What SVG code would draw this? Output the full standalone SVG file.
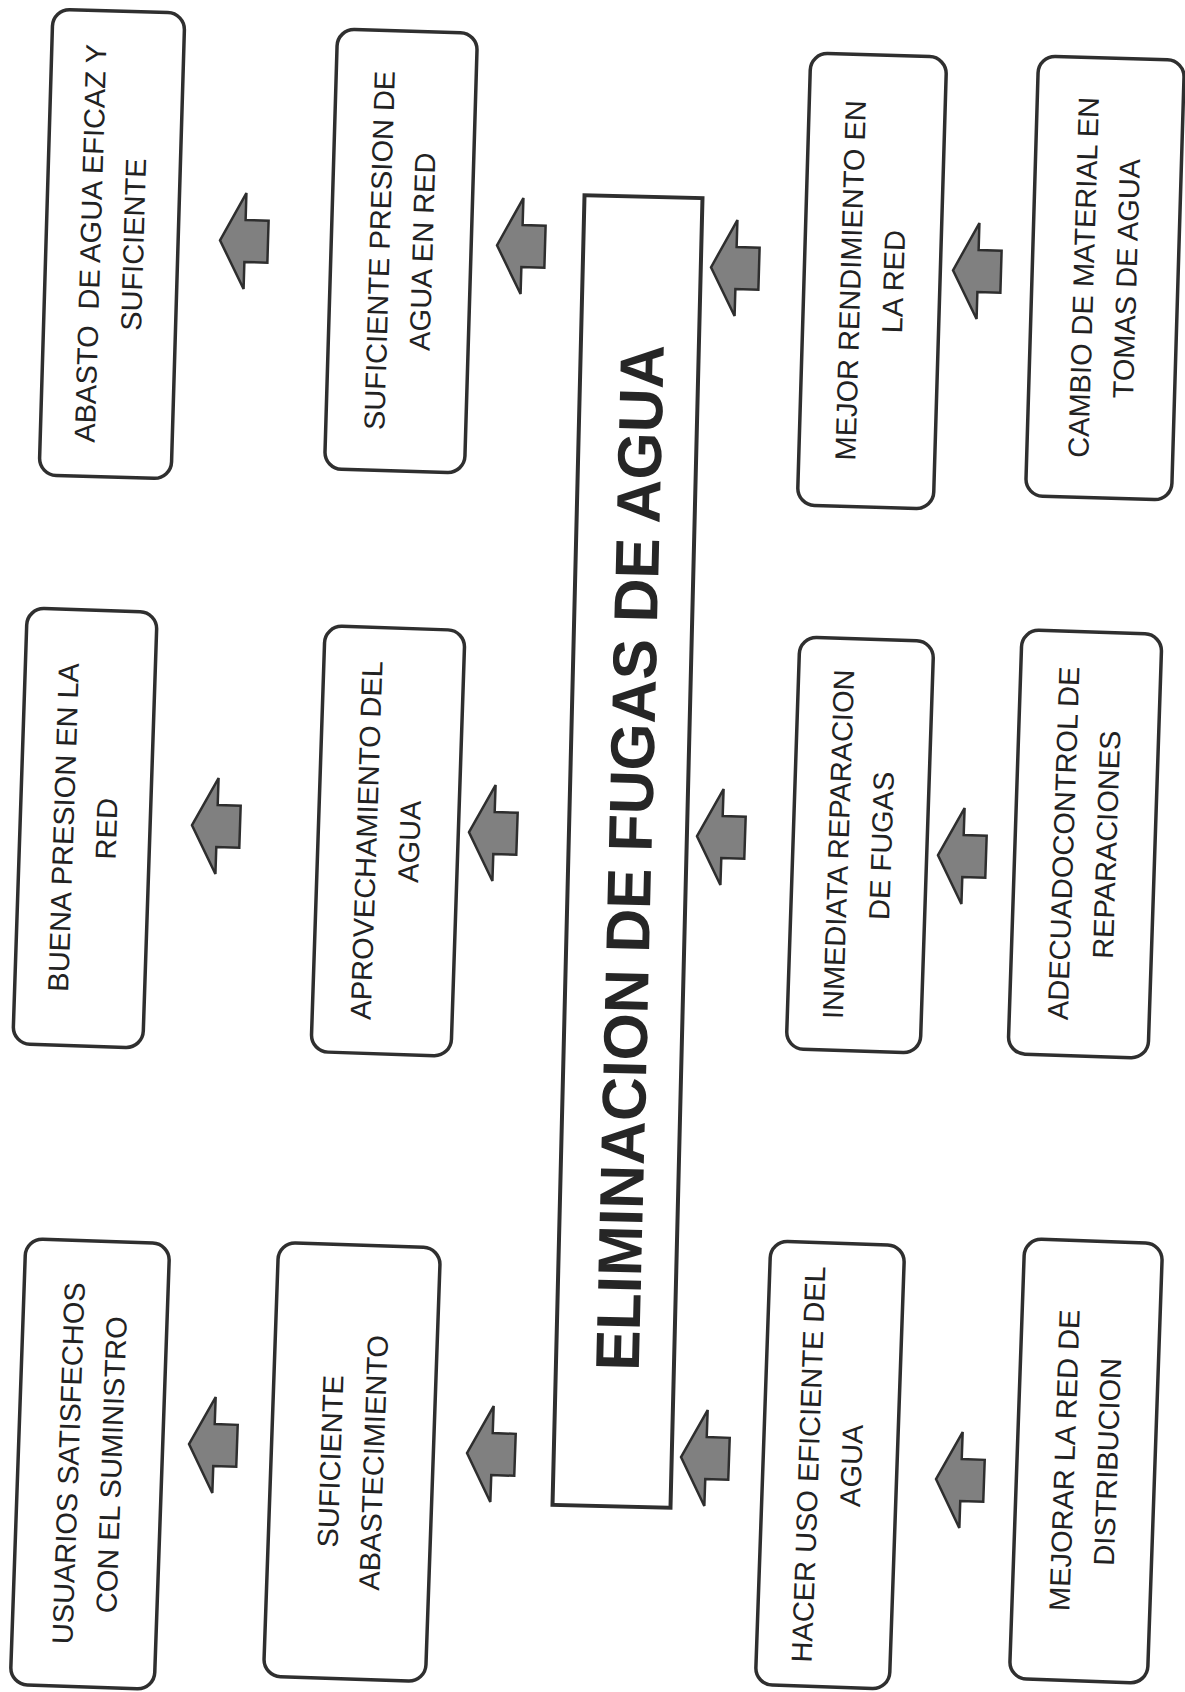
<svg xmlns="http://www.w3.org/2000/svg" xmlns:xlink="http://www.w3.org/1999/xlink" width="1185" height="1692" viewBox="0 0 1185 1692">
<style>
.box{fill:#fff;stroke:#2f2f2f;stroke-width:3.5}
.main{fill:#fff;stroke:#2f2f2f;stroke-width:4}
.lbl{font-family:"Liberation Sans",Arial,sans-serif;font-size:29px;fill:#222;text-anchor:middle}
.title{font-family:"Liberation Sans",Arial,sans-serif;font-size:62px;font-weight:bold;fill:#262626;text-anchor:middle}
.arrow{fill:#808080;stroke:#2e2e2e;stroke-width:2.5;stroke-linejoin:miter}
</style>
<defs>
<path id="arr" d="M-24 0 L1 -48 L1 -21 L24 -21 L24 21 L1 21 L1 48 Z"/>
</defs>
<rect x="0" y="0" width="1185" height="1692" fill="#fff"/>

<g id="center">
<g transform="translate(627.5 851.5) rotate(1.4)">
<rect class="main" x="-59" y="-655" width="118" height="1310"/>
<text class="title" transform="rotate(-90)" x="-6" y="24" textLength="1026" lengthAdjust="spacingAndGlyphs">ELIMINACION DE FUGAS DE AGUA</text>
</g>
</g>

<g id="n-abasto" transform="translate(112 244) rotate(1.7)">
<rect class="box" x="-66" y="-233" width="132" height="466" rx="17"/>
<text class="lbl" transform="rotate(-90)" xml:space="preserve"><tspan x="0" y="-11.5">ABASTO  DE AGUA EFICAZ Y</tspan><tspan x="0" y="31.5">SUFICIENTE</tspan></text>
</g>
<g id="n-presion-red" transform="translate(401 251) rotate(1.7)">
<rect class="box" x="-70" y="-220" width="140" height="440" rx="17"/>
<text class="lbl" transform="rotate(-90)"><tspan x="0" y="-11.5">SUFICIENTE PRESION DE</tspan><tspan x="0" y="31.5">AGUA EN RED</tspan></text>
</g>
<g id="n-rendimiento" transform="translate(872 281) rotate(1.7)">
<rect class="box" x="-68" y="-226" width="136" height="452" rx="17"/>
<text class="lbl" transform="rotate(-90)"><tspan x="0" y="-11.5">MEJOR RENDIMIENTO EN</tspan><tspan x="0" y="31.5">LA RED</tspan></text>
</g>
<g id="n-cambio" transform="translate(1105 278) rotate(1.7)">
<rect class="box" x="-73" y="-220" width="146" height="440" rx="17"/>
<text class="lbl" transform="rotate(-90)"><tspan x="0" y="-11.5">CAMBIO DE MATERIAL EN</tspan><tspan x="0" y="31.5">TOMAS DE AGUA</tspan></text>
</g>

<g id="n-buena" transform="translate(85 828) rotate(1.9)">
<rect class="box" x="-65" y="-218" width="130" height="436" rx="17"/>
<text class="lbl" transform="rotate(-90)"><tspan x="0" y="-11.5">BUENA PRESION EN LA</tspan><tspan x="0" y="31.5">RED</tspan></text>
</g>
<g id="n-aprovechamiento" transform="translate(388 841) rotate(1.9)">
<rect class="box" x="-70" y="-213" width="140" height="426" rx="17"/>
<text class="lbl" transform="rotate(-90)"><tspan x="0" y="-11.5">APROVECHAMIENTO DEL</tspan><tspan x="0" y="31.5">AGUA</tspan></text>
</g>
<g id="n-inmediata" transform="translate(860 845) rotate(1.9)">
<rect class="box" x="-67" y="-206" width="134" height="412" rx="17"/>
<text class="lbl" transform="rotate(-90)"><tspan x="0" y="-11.5">INMEDIATA REPARACION</tspan><tspan x="0" y="31.5">DE FUGAS</tspan></text>
</g>
<g id="n-control" transform="translate(1085 844) rotate(1.9)">
<rect class="box" x="-70" y="-212" width="140" height="424" rx="17"/>
<text class="lbl" transform="rotate(-90)"><tspan x="0" y="-11.5">ADECUADOCONTROL DE</tspan><tspan x="0" y="31.5">REPARACIONES</tspan></text>
</g>

<g id="n-usuarios" transform="translate(90 1464) rotate(2)">
<rect class="box" x="-72" y="-223" width="144" height="446" rx="17"/>
<text class="lbl" transform="rotate(-90)"><tspan x="0" y="-11.5">USUARIOS SATISFECHOS</tspan><tspan x="0" y="31.5">CON EL SUMINISTRO</tspan></text>
</g>
<g id="n-abastecimiento" transform="translate(352 1462) rotate(2)">
<rect class="box" x="-81" y="-217" width="162" height="434" rx="17"/>
<text class="lbl" transform="rotate(-90)"><tspan x="0" y="-11.5">SUFICIENTE</tspan><tspan x="0" y="31.5">ABASTECIMIENTO</tspan></text>
</g>
<g id="n-uso" transform="translate(830 1465) rotate(2)">
<rect class="box" x="-67" y="-222" width="134" height="444" rx="17"/>
<text class="lbl" transform="rotate(-90)"><tspan x="0" y="-11.5">HACER USO EFICIENTE DEL</tspan><tspan x="0" y="31.5">AGUA</tspan></text>
</g>
<g id="n-mejorar" transform="translate(1086 1461) rotate(2)">
<rect class="box" x="-69" y="-220" width="138" height="440" rx="17"/>
<text class="lbl" transform="rotate(-90)"><tspan x="0" y="-11.5">MEJORAR LA RED DE</tspan><tspan x="0" y="31.5">DISTRIBUCION</tspan></text>
</g>

<g id="connectors">
<use class="arrow" href="#arr" transform="translate(244 241) rotate(1.7)"/>
<use class="arrow" href="#arr" transform="translate(521 246) rotate(1.7)"/>
<use class="arrow" href="#arr" transform="translate(735 268) rotate(1.7)"/>
<use class="arrow" href="#arr" transform="translate(977 271) rotate(1.7)"/>
<use class="arrow" href="#arr" transform="translate(216 826) rotate(1.9)"/>
<use class="arrow" href="#arr" transform="translate(493 833) rotate(1.9)"/>
<use class="arrow" href="#arr" transform="translate(721 837) rotate(1.9)"/>
<use class="arrow" href="#arr" transform="translate(962 856) rotate(1.9)"/>
<use class="arrow" href="#arr" transform="translate(213 1445) rotate(2)"/>
<use class="arrow" href="#arr" transform="translate(491 1454) rotate(2)"/>
<use class="arrow" href="#arr" transform="translate(705 1458) rotate(2)"/>
<use class="arrow" href="#arr" transform="translate(960 1480) rotate(2)"/>
</g>
</svg>
